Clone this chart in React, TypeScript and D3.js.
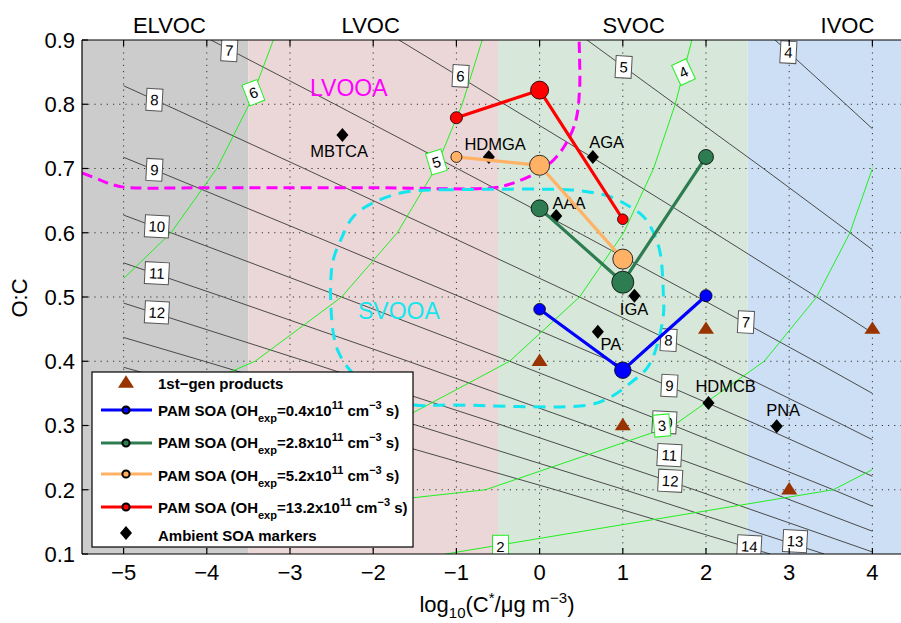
import React from "react";
import * as d3 from "d3";

const width = 901;
const height = 623;
// the axes run past the right edge of the picture (to log C* = 4.5)
const plot = { left: 82, right: 914, top: 40, bottom: 554 };

const font = "'Liberation Sans', Arial, Helvetica, sans-serif";

// volatility classes
const bandNames = ["ELVOC", "LVOC", "SVOC", "IVOC"];
const bandEdges = [-5.5, -3.5, -0.5, 2.5, 4.5];
const bandLabelAt = [-4.45, -2.03, 1.13, 3.7];
const bandColors = ["#cccccc", "#ebd7d7", "#d7e7d9", "#cddff4"];

const xTicks = [-5, -4, -3, -2, -1, 0, 1, 2, 3, 4];
const yTicks = [0.1, 0.2, 0.3, 0.4, 0.5, 0.6, 0.7, 0.8, 0.9];

// isopleth grid: O:C levels, log10 C* of each isopleth at those levels
const ocLevels = [0.1, 0.2, 0.3, 0.4, 0.5, 0.6, 0.7, 0.8, 0.9];

const carbonNumbers = [4, 5, 6, 7, 8, 9, 10, 11, 12, 13, 14];
const carbonLogC = [
  [9.27, 8.54, 7.77, 6.98, 6.18, 5.36, 4.52, 3.68, 2.83],
  [8.62, 7.7, 6.74, 5.76, 4.75, 3.73, 2.69, 1.63, 0.57],
  [7.97, 6.87, 5.72, 4.53, 3.33, 2.1, 0.85, -0.42, -1.69],
  [7.32, 6.03, 4.69, 3.31, 1.9, 0.47, -0.99, -2.46, -3.95],
  [6.67, 5.2, 3.66, 2.09, 0.48, -1.17, -2.83, -4.51, -6.21],
  [6.02, 4.36, 2.64, 0.86, -0.95, -2.8, -4.67, -6.56, -8.47],
  [5.37, 3.53, 1.61, -0.36, -2.38, -4.43, -6.5, -8.61, -10.73],
  [4.72, 2.69, 0.58, -1.58, -3.8, -6.06, -8.34, -10.66, -12.99],
  [4.07, 1.86, -0.44, -2.81, -5.23, -7.69, -10.18, -12.71, -15.25],
  [3.42, 1.02, -1.47, -4.03, -6.65, -9.32],
  [2.77, 0.19, -2.5, -5.26, -8.08],
];

const oxygenNumbers = [2, 3, 4, 5, 6];
const oxygenLogC = [
  [-1.13, 3.53, 5.03, 5.76],
  [-7.64, -0.65, 1.61, 2.7, 3.33, 3.73, 4.0, 4.19, 4.34],
  [-14.14, -4.83, -1.81, -0.36, 0.48, 1.01, 1.37, 1.63, 1.83],
  [-20.65, -9.0, -5.23, -3.42, -2.38, -1.71, -1.25, -0.93, -0.69],
  [-27.15, -13.18, -8.66, -6.48, -5.23, -4.43, -3.88, -3.49, -3.2],
];

// contour labels (value, log C*, O:C)
const carbonLabels: [number, number, number][] = [
  [7, -3.73, 0.884], [8, -4.63, 0.807], [9, -4.63, 0.698], [10, -4.6, 0.61],
  [11, -4.6, 0.537], [12, -4.6, 0.476], [6, -0.95, 0.844], [5, 1.01, 0.858],
  [4, 2.99, 0.881], [7, 2.48, 0.461], [8, 1.55, 0.433], [9, 1.56, 0.362],
  [10, 1.5, 0.305], [11, 1.56, 0.254], [12, 1.57, 0.214], [13, 3.07, 0.12],
  [14, 2.52, 0.112],
];
const oxygenLabels: [number, number, number][] = [
  [6, -3.44, 0.818], [5, -1.24, 0.71], [4, 1.73, 0.85], [3, 1.47, 0.3], [2, -0.47, 0.112],
];
const oxygenLabelTilt = [-21, -17, -25, -5, 0];

// factor-analysis regions
const lvooaLogC = [-5.5, -5.28, -5.16, -5.0, -4.0, -2.0, -0.55, -0.35, -0.07, 0.1, 0.29, 0.43, 0.48, 0.48, 0.47];
const lvooaOC = [0.693, 0.682, 0.676, 0.671, 0.67, 0.67, 0.67, 0.676, 0.691, 0.705, 0.733, 0.772, 0.822, 0.874, 0.92];
const svooaLogC = [-1.07, -1.63, -2.01, -2.24, -2.39, -2.48, -2.51, -2.51, -2.48, -2.43, -2.31, -2.09, -1.79, -1.51, -1.07, 0.59, 0.85, 1.09, 1.3, 1.42, 1.49, 1.49, 1.45, 1.37, 1.25, 1.09, 0.85, 0.61, 0.34, -1.07];
const svooaOC = [0.667, 0.663, 0.646, 0.625, 0.589, 0.558, 0.526, 0.491, 0.444, 0.418, 0.391, 0.363, 0.343, 0.332, 0.332, 0.332, 0.344, 0.366, 0.391, 0.428, 0.475, 0.495, 0.568, 0.6, 0.625, 0.64, 0.656, 0.663, 0.667, 0.667];

// first-generation products
const firstGenLogC = [0, 1, 2, 3, 4];
const firstGenOC = [0.4, 0.3, 0.45, 0.2, 0.45];

// PAM SOA at four OH exposures
const pamExposure = ["0.4", "2.8", "5.2", "13.2"];
const pamLogC = [[0, 1, 2], [0, 1, 2], [-1, 0, 1], [-1, 0, 1]];
const pamOC = [[0.481, 0.386, 0.502], [0.638, 0.523, 0.718], [0.718, 0.705, 0.559], [0.779, 0.822, 0.621]];
const pamWeight = [[5.3, 7.5, 5.5], [7.7, 10, 6.8], [5, 9.1, 9.1], [5.5, 8.2, 4.8]];
const pamColors = ["#0000ff", "#2e7d52", "#ffb266", "#ff0000"];

// ambient SOA markers
const ambientNames = ["MBTCA", "HDMGA", "AGA", "AAA", "IGA", "PA", "HDMCB", "PNA"];
const ambientLogC = [-2.37, -0.61, 0.64, 0.2, 1.14, 0.7, 2.03, 2.85];
const ambientOC = [0.752, 0.718, 0.718, 0.626, 0.502, 0.446, 0.335, 0.299];
const ambientLabelLogC = [-2.41, -0.535, 0.805, 0.355, 1.135, 0.858, 2.236, 2.927];
const ambientLabelOC = [0.718, 0.729, 0.732, 0.637, 0.472, 0.418, 0.352, 0.315];

const x = d3.scaleLinear().domain([-5.5, 4.5]).range([plot.left, plot.right]);
const y = d3.scaleLinear().domain([0.1, 0.9]).range([plot.bottom, plot.top]);
const radius = d3.scaleLinear().domain([0, 10]).range([0, 11]);

const isopleth = d3
  .line<number>()
  .x((d) => x(d))
  .y((d, i) => y(ocLevels[i]));

const region = (xs: number[], ys: number[]) =>
  d3.line<number>().x((d) => x(d)).y((d, i) => y(ys[i])).curve(d3.curveCatmullRom)(xs) || "";

const diamond = {
  draw(ctx: any, size: number) {
    const w = size * 0.43;
    const h = size * 0.5;
    ctx.moveTo(0, -h);
    ctx.lineTo(w, 0);
    ctx.lineTo(0, h);
    ctx.lineTo(-w, 0);
    ctx.closePath();
  },
};
const triangle = {
  draw(ctx: any, size: number) {
    const w = size * 0.5;
    const h = size * 0.78;
    ctx.moveTo(0, -h * 0.62);
    ctx.lineTo(w, h * 0.38);
    ctx.lineTo(-w, h * 0.38);
    ctx.closePath();
  },
};
const diamondPath = d3.symbol(diamond as any, 14)() || "";
const trianglePath = d3.symbol(triangle as any, 16)() || "";

const minus = (v: number) => (v < 0 ? "\u2212" + Math.abs(v) : String(v));

const ContourLabel = ({ n, lx, ly, tilt, stroke }: any) => {
  const w = String(n).length > 1 ? 24 : 16;
  return (
    <g transform={`translate(${x(lx)},${y(ly)}) rotate(${tilt})`}>
      <rect x={-w / 2} y={-11} width={w} height={22} fill="#fff" stroke={stroke} strokeWidth={1} />
      <text textAnchor="middle" dy="0.36em" fontSize={15} fill="#000">
        {n}
      </text>
    </g>
  );
};

const Legend = () => {
  const rows = [389, 416, 448, 481, 513, 541];
  const marks = [383, 410, 443, 474, 507, 533];
  return (
    <g fontFamily={font} fontWeight="bold" fontSize={15}>
      <rect x={92} y={372} width={321} height={175} fill="#fff" stroke="#000" strokeWidth={1.2} />
      <path d={trianglePath} transform={`translate(126,${marks[0]})`} fill="#993300" />
      <text x={158} y={rows[0]}>1st{"\u2212"}gen products</text>
      {pamExposure.map((e, i) => (
        <g key={e}>
          <line x1={101} x2={152} y1={marks[i + 1]} y2={marks[i + 1]} stroke={pamColors[i]} strokeWidth={3} />
          <circle cx={126} cy={marks[i + 1]} r={3.6} fill={pamColors[i]} stroke="#000" strokeWidth={2} />
          <text x={158} y={rows[i + 1]}>
            PAM SOA (OH
            <tspan fontSize={11} dy={6}>exp</tspan>
            <tspan dy={-6}>={e}x10</tspan>
            <tspan fontSize={11} dy={-7}>11</tspan>
            <tspan dy={7}> cm</tspan>
            <tspan fontSize={11} dy={-7}>{"\u2212"}3</tspan>
            <tspan dy={7}> s)</tspan>
          </text>
        </g>
      ))}
      <path d={diamondPath} transform={`translate(126,${marks[5]})`} fill="#000" />
      <text x={158} y={rows[5]}>Ambient SOA markers</text>
    </g>
  );
};

export default function App() {
  return (
    <svg
      width={width}
      height={height}
      style={{ position: "absolute", left: 0, top: 0, background: "#fff" }}
      fontFamily={font}
    >
      <defs>
        <clipPath id="plotClip">
          <rect x={plot.left} y={plot.top} width={plot.right - plot.left} height={plot.bottom - plot.top} />
        </clipPath>
        <clipPath id="gridClip">
          <rect x={x(-5)} y={y(0.9)} width={x(4) - x(-5)} height={y(0.1) - y(0.9)} />
        </clipPath>
      </defs>

      {/* volatility bands */}
      {bandNames.map((b, i) => (
        <rect
          key={b}
          x={x(bandEdges[i])}
          y={plot.top}
          width={x(bandEdges[i + 1]) - x(bandEdges[i])}
          height={plot.bottom - plot.top}
          fill={bandColors[i]}
        />
      ))}
      {bandNames.map((b, i) => (
        <text key={b} x={x(bandLabelAt[i])} y={33} textAnchor="middle" fontSize={22}>
          {b}
        </text>
      ))}

      {/* grid */}
      <g stroke="#333" strokeWidth={1} strokeDasharray="1.2,5">
        {xTicks.map((t) => (
          <line key={t} x1={x(t)} x2={x(t)} y1={plot.top} y2={plot.bottom} />
        ))}
        {yTicks.slice(1, -1).map((t) => (
          <line key={t} x1={plot.left} x2={plot.right} y1={y(t)} y2={y(t)} />
        ))}
      </g>

      {/* isopleths */}
      <g clipPath="url(#gridClip)" fill="none">
        {carbonLogC.map((d, i) => (
          <path key={carbonNumbers[i]} d={isopleth(d) || ""} stroke="#3a3a3a" strokeWidth={0.9} />
        ))}
        {oxygenLogC.map((d, i) => (
          <path key={oxygenNumbers[i]} d={isopleth(d) || ""} stroke="#22ee22" strokeWidth={1} />
        ))}
      </g>

      <g clipPath="url(#plotClip)" fontFamily={font}>
        {carbonLabels.map(([n, lx, ly], i) => (
          <ContourLabel key={"c" + i} n={n} lx={lx} ly={ly} tilt={3} stroke="#555" />
        ))}
        {oxygenLabels.map(([n, lx, ly], i) => (
          <ContourLabel key={"o" + i} n={n} lx={lx} ly={ly} tilt={oxygenLabelTilt[i]} stroke="#22ee22" />
        ))}

        {/* LVOOA / SVOOA regions */}
        <path d={region(lvooaLogC, lvooaOC)} fill="none" stroke="#ff00ff" strokeWidth={3} strokeDasharray="11,6" />
        <path d={region(svooaLogC, svooaOC)} fill="none" stroke="#14e6ef" strokeWidth={3} strokeDasharray="12,8" />
        <text x={310} y={96} fontSize={23} fill="#ff00ff">LVOOA</text>
        <text x={358} y={319} fontSize={23} fill="#14e6ef">SVOOA</text>

        {/* first-generation products */}
        {firstGenLogC.map((v, i) => (
          <path key={v} d={trianglePath} transform={`translate(${x(v)},${y(firstGenOC[i])})`} fill="#993300" />
        ))}

        {/* ambient markers */}
        {ambientNames.map((n, i) => (
          <g key={n}>
            <path d={diamondPath} transform={`translate(${x(ambientLogC[i])},${y(ambientOC[i])})`} fill="#000" />
            <text x={x(ambientLabelLogC[i])} y={y(ambientLabelOC[i])} textAnchor="middle" fontSize={16.5}>
              {n}
            </text>
          </g>
        ))}

        {/* PAM SOA */}
        {pamLogC.map((xs, s) => (
          <g key={s}>
            <path
              d={d3.line<number>().x((d) => x(d)).y((d, i) => y(pamOC[s][i]))(xs) || ""}
              fill="none"
              stroke={pamColors[s]}
              strokeWidth={3.2}
            />
            {xs.map((v, i) => (
              <circle
                key={i}
                cx={x(v)}
                cy={y(pamOC[s][i])}
                r={radius(pamWeight[s][i])}
                fill={pamColors[s]}
                stroke="#000"
                strokeWidth={0.8}
              />
            ))}
          </g>
        ))}
      </g>

      {/* axes frame and ticks */}
      <g stroke="#000" strokeWidth={1.2}>
        <line x1={plot.left} x2={width} y1={plot.top} y2={plot.top} />
        <line x1={plot.left} x2={width} y1={plot.bottom} y2={plot.bottom} />
        <line x1={plot.left} x2={plot.left} y1={plot.top} y2={plot.bottom} />
        {xTicks.map((t) => (
          <g key={t}>
            <line x1={x(t)} x2={x(t)} y1={plot.bottom} y2={plot.bottom - 6} />
            <line x1={x(t)} x2={x(t)} y1={plot.top} y2={plot.top + 6} />
          </g>
        ))}
        {yTicks.map((t) => (
          <line key={t} x1={plot.left} x2={plot.left + 6} y1={y(t)} y2={y(t)} />
        ))}
      </g>
      {xTicks.map((t) => (
        <text key={t} x={x(t)} y={580} textAnchor="middle" fontSize={22}>
          {minus(t)}
        </text>
      ))}
      {yTicks.map((t) => (
        <text key={t} x={75} y={y(t)} dy="0.36em" textAnchor="end" fontSize={22}>
          {t.toFixed(1)}
        </text>
      ))}

      <text x={497} y={612} textAnchor="middle" fontSize={22}>
        log<tspan fontSize={15} dy={6}>10</tspan>
        <tspan dy={-6}>(C</tspan>
        <tspan fontSize={15} dy={-9}>*</tspan>
        <tspan dy={9}>/{"\u03bc"}g m</tspan>
        <tspan fontSize={15} dy={-9}>{"\u2212"}3</tspan>
        <tspan dy={9}>)</tspan>
      </text>
      <text transform="translate(27,298) rotate(-90)" textAnchor="middle" fontSize={22}>
        O:C
      </text>

      <Legend />
    </svg>
  );
}
